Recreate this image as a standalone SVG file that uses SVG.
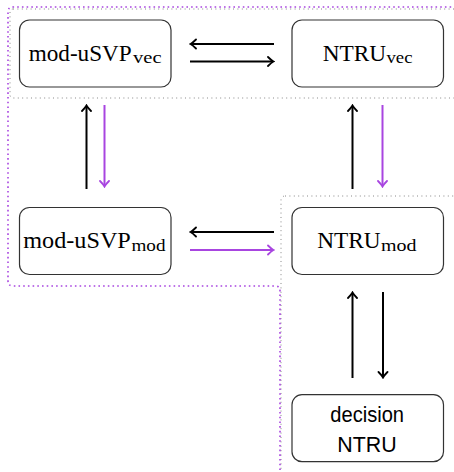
<svg xmlns="http://www.w3.org/2000/svg" width="454" height="472" viewBox="0 0 454 472">
<style>
.box{fill:#fff;stroke:#333;stroke-width:1.2}
.cm{font-family:"Liberation Serif","DejaVu Serif",serif;fill:#000}
.main{font-size:24px}
.sub{font-size:17px}
.sans{font-family:"Liberation Sans","DejaVu Sans",sans-serif;font-size:22px;fill:#000}
.blk{stroke:#000;stroke-width:2;fill:none;marker-end:url(#ab)}
.pur{stroke:#a845e0;stroke-width:2;fill:none;marker-end:url(#ap)}
.gdot{fill:none;stroke:#888;stroke-width:1;stroke-dasharray:1 3.4}
.pdot{fill:none;stroke:#a845e0;stroke-width:1.6;stroke-dasharray:1.6 3.1}
</style>
<defs>
<marker id="ab" markerUnits="userSpaceOnUse" viewBox="-8 -6 10 12" refX="0" refY="0" markerWidth="10" markerHeight="12" orient="auto">
<path d="M-5,-4.5 Q-1.5,-1 0.5,0 Q-1.5,1 -5,4.5" fill="none" stroke="#000" stroke-width="1.8" stroke-linecap="round"/>
</marker>
<marker id="ap" markerUnits="userSpaceOnUse" viewBox="-8 -6 10 12" refX="0" refY="0" markerWidth="10" markerHeight="12" orient="auto">
<path d="M-5,-4.5 Q-1.5,-1 0.5,0 Q-1.5,1 -5,4.5" fill="none" stroke="#a845e0" stroke-width="1.8" stroke-linecap="round"/>
</marker>
</defs>
<g id="regions">
<rect class="gdot" x="10" y="9" width="460" height="89" rx="3"/>
<rect class="gdot" x="281" y="196" width="190" height="290" rx="4"/>
<path class="pdot" d="M470,7 H13 Q8,7 8,12 V281 Q8,286 13,286 H275 Q280,286 280,291 V480"/>
</g>
<g id="n-modusvp-vec">
<rect class="box" x="19.5" y="20" width="151.5" height="67" rx="10"/>
<text class="cm" y="61"><tspan class="main" x="28.7" textLength="103" lengthAdjust="spacingAndGlyphs">mod-uSVP</tspan><tspan class="sub" x="133" y="63" textLength="28.5" lengthAdjust="spacingAndGlyphs">vec</tspan></text>
</g>
<g id="n-ntru-vec">
<rect class="box" x="292" y="20" width="151.5" height="67" rx="10"/>
<text class="cm" y="60.5"><tspan class="main" x="322.7" textLength="63.5" lengthAdjust="spacingAndGlyphs">NTRU</tspan><tspan class="sub" x="386.5" y="63" textLength="26" lengthAdjust="spacingAndGlyphs">vec</tspan></text>
</g>
<g id="n-modusvp-mod">
<rect class="box" x="19.5" y="207.5" width="151.5" height="67" rx="10"/>
<text class="cm" y="248.3"><tspan class="main" x="23.3" textLength="107.5" lengthAdjust="spacingAndGlyphs">mod-uSVP</tspan><tspan class="sub" x="131.5" y="251" textLength="34" lengthAdjust="spacingAndGlyphs">mod</tspan></text>
</g>
<g id="n-ntru-mod">
<rect class="box" x="292" y="207.5" width="151.5" height="67" rx="10"/>
<text class="cm" y="248.3"><tspan class="main" x="317.3" textLength="63.4" lengthAdjust="spacingAndGlyphs">NTRU</tspan><tspan class="sub" x="381" y="251" textLength="35.5" lengthAdjust="spacingAndGlyphs">mod</tspan></text>
</g>
<g id="n-decision-ntru">
<rect class="box" x="292" y="394.7" width="151.5" height="67" rx="10"/>
<text class="sans" x="330.3" y="422.3" textLength="73.7" lengthAdjust="spacingAndGlyphs">decision</text>
<text class="sans" x="337.3" y="451.7" textLength="59.4" lengthAdjust="spacingAndGlyphs">NTRU</text>
</g>
<g id="connectors">
<line class="blk" x1="274" y1="44" x2="191" y2="44"/>
<line class="blk" x1="190" y1="61.5" x2="273" y2="61.5"/>
<line class="blk" x1="274" y1="232" x2="191" y2="232"/>
<line class="pur" x1="190" y1="250" x2="273" y2="250"/>
<line class="blk" x1="86.5" y1="189" x2="86.5" y2="106"/>
<line class="pur" x1="104.5" y1="105" x2="104.5" y2="186"/>
<line class="blk" x1="352.5" y1="189" x2="352.5" y2="106"/>
<line class="pur" x1="382.5" y1="105" x2="382.5" y2="186"/>
<line class="blk" x1="352.5" y1="378" x2="352.5" y2="293"/>
<line class="blk" x1="383" y1="292" x2="383" y2="377"/>
</g>
</svg>
